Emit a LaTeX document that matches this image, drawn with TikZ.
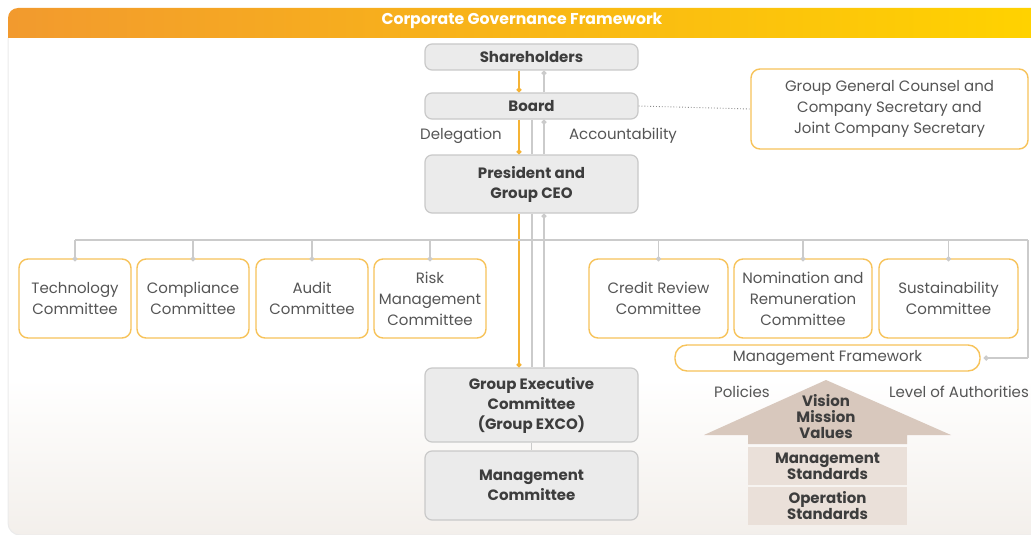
\documentclass[tikz,border=0pt]{standalone}
\usepackage{fontspec}
\setmainfont{Poppins}
\usetikzlibrary{arrows.meta}
\definecolor{boxgray}{HTML}{EBEBEB}
\definecolor{boxedge}{HTML}{C9C9C9}
\definecolor{orangeedge}{HTML}{F7C35A}
\definecolor{linegray}{HTML}{CBCBCB}
\definecolor{orangeline}{HTML}{F5B335}
\definecolor{txtgray}{HTML}{555555}
\definecolor{txtdark}{HTML}{3D3D3D}
\definecolor{hdrL}{HTML}{F29A2E}
\definecolor{hdrR}{HTML}{FFD200}
\definecolor{arrowtan}{HTML}{D8C8BD}
\definecolor{stdbox}{HTML}{EAE0D9}
\definecolor{panelbot}{HTML}{F3EFEB}
\tikzset{
  x=1pt, y=-1pt,
  graybox/.style={draw=boxedge, line width=1.2pt, fill=boxgray, rounded corners=7pt,
    minimum width=213pt, text=txtdark, font=\fontsize{15}{20}\selectfont\bfseries, align=center, inner sep=0pt},
  combox/.style={draw=orangeedge, line width=1.4pt, fill=white, rounded corners=9pt,
    minimum height=79pt, text=txtgray, font=\fontsize{15}{21}\selectfont, align=center, inner sep=0pt},
  lbl/.style={text=txtgray, font=\fontsize{15}{21}\selectfont, inner sep=0pt},
  oline/.style={draw=orangeline, line width=1.4pt, -{Circle[length=5pt]}},
  gline/.style={draw=linegray, line width=1.4pt},
  gdot/.style={draw=linegray, line width=1.4pt, -{Circle[length=5pt]}},
  stdtext/.style={text=txtdark, font=\fontsize{15}{16}\selectfont\bfseries, align=center, inner sep=0pt}
}
\begin{document}
\begin{tikzpicture}
\useasboundingbox (0,0) rectangle (1031,535);
% panel
\fill[white] (8,38) rectangle (1031,380);
\shade[top color=white, bottom color=panelbot] (1031,379) -- (8,379) [rounded corners=12pt] -- (8,535) [sharp corners] -- (1031,535) -- cycle;
\draw[draw=black!8, line width=1pt] (8,38) [rounded corners=12pt] -- (8,535) [sharp corners] -- (1031,535);
% header
\shade[left color=hdrL, right color=hdrR] (8,38) [rounded corners=10pt] -- (8,8) [sharp corners] -- (1031,8) -- (1031,38) -- cycle;
\node[text=white, font=\fontsize{15.7}{16}\selectfont\bfseries, inner sep=0pt] (title) at (522,21) {Corporate Governance Framework};

% main column
\node[graybox, minimum height=26pt] (sh) at (531.5,57) {Shareholders};
\node[graybox, minimum height=26pt] (bd) at (531.5,106) {Board};
\node[graybox, minimum height=58pt] (ceo) at (531.5,184) {President and\\Group CEO};
\node[graybox, minimum height=74pt] (exco) at (531.5,405) {Group Executive\\Committee\\(Group EXCO)};
\node[graybox, minimum height=69pt] (mc) at (531.5,485.5) {Management\\Committee};

\coordinate (xo) at (519,0);
\coordinate (xm) at (532,0);
\coordinate (xg) at (544,0);

% connectors
\draw[oline] (sh.south -| xo) -- (bd.north -| xo);
\draw[gdot] (bd.north -| xg) -- (sh.south -| xg);
\draw[oline] (bd.south -| xo) -- (ceo.north -| xo);
\draw[gline] (bd.south -| xm) -- (ceo.north -| xm);
\draw[gdot] (ceo.north -| xg) -- (bd.south -| xg);
\draw[oline] (ceo.south -| xo) -- (exco.north -| xo);
\draw[gline] (ceo.south -| xm) -- (exco.north -| xm);
\draw[gdot] (exco.north -| xg) -- (ceo.south -| xg);
\draw[gline] (exco.south) -- (mc.north);

\node[lbl] (deleg) at (461,136) {Delegation};
\node[lbl] (acct) at (623,136) {Accountability};

% counsel
\node[draw=orangeedge, line width=1.4pt, fill=white, rounded corners=9pt, minimum width=277pt, minimum height=80pt,
  text=txtgray, font=\fontsize{15}{21}\selectfont, align=center, inner sep=0pt] (gc) at (889.5,109)
  {Group General Counsel and\\Company Secretary and\\Joint Company Secretary};
\draw[draw=black!45, line width=0.9pt, dotted] (bd.east) -- (gc.west);

% committees
\node[combox, minimum width=112pt] (tech) at (75,298.5) {Technology\\Committee};
\node[combox, minimum width=112pt] (comp) at (193,298.5) {Compliance\\Committee};
\node[combox, minimum width=112pt] (aud) at (312,298.5) {Audit\\Committee};
\node[combox, minimum width=112pt] (risk) at (430,298.5) {Risk\\Management\\Committee};
\node[combox, minimum width=139pt] (cred) at (658.5,298.5) {Credit Review\\Committee};
\node[combox, minimum width=138pt] (nom) at (803,298.5) {Nomination and\\Remuneration\\Committee};
\node[combox, minimum width=139pt] (sus) at (948.5,298.5) {Sustainability\\Committee};
\node[draw=orangeedge, line width=1.4pt, fill=white, rounded corners=12pt, minimum width=305pt, minimum height=26pt,
  text=txtgray, font=\fontsize{15}{16}\selectfont, inner sep=0pt] (mf) at (827.5,358) {Management Framework};

\coordinate (bl) at (75,240);
\coordinate (br) at (1028,240);
\coordinate (brd) at (1028,358);
\draw[gline] (bl) -- (br);
\draw[gline] (br) -- (brd);
\draw[gdot] (brd) -- ([xshift=3pt]mf.east);
\foreach \n in {tech,comp,aud,risk,cred,nom,sus}{
  \draw[gdot] (\n.north |- bl) -- ([yshift=-3pt]\n.north);
}

% house arrow
\fill[arrowtan] (826,380) -- (951,435) -- (907,435) -- (907,444) -- (748,444) -- (748,435) -- (704,435) -- cycle;
\node[stdtext] (vmv) at (826,417) {Vision\\Mission\\Values};
\node[fill=stdbox, minimum width=159pt, minimum height=38pt, inner sep=0pt] (ms) at (827.5,466) {};
\node[stdtext] at (ms) {Management\\Standards};
\node[fill=stdbox, minimum width=159pt, minimum height=38pt, inner sep=0pt] (os) at (827.5,506) {};
\node[stdtext] at (os) {Operation\\Standards};
\node[lbl] (pol) at (742,392) {Policies};
\node[lbl, anchor=west] (loa) at (889,392) {Level of Authorities};
\end{tikzpicture}
\end{document}
